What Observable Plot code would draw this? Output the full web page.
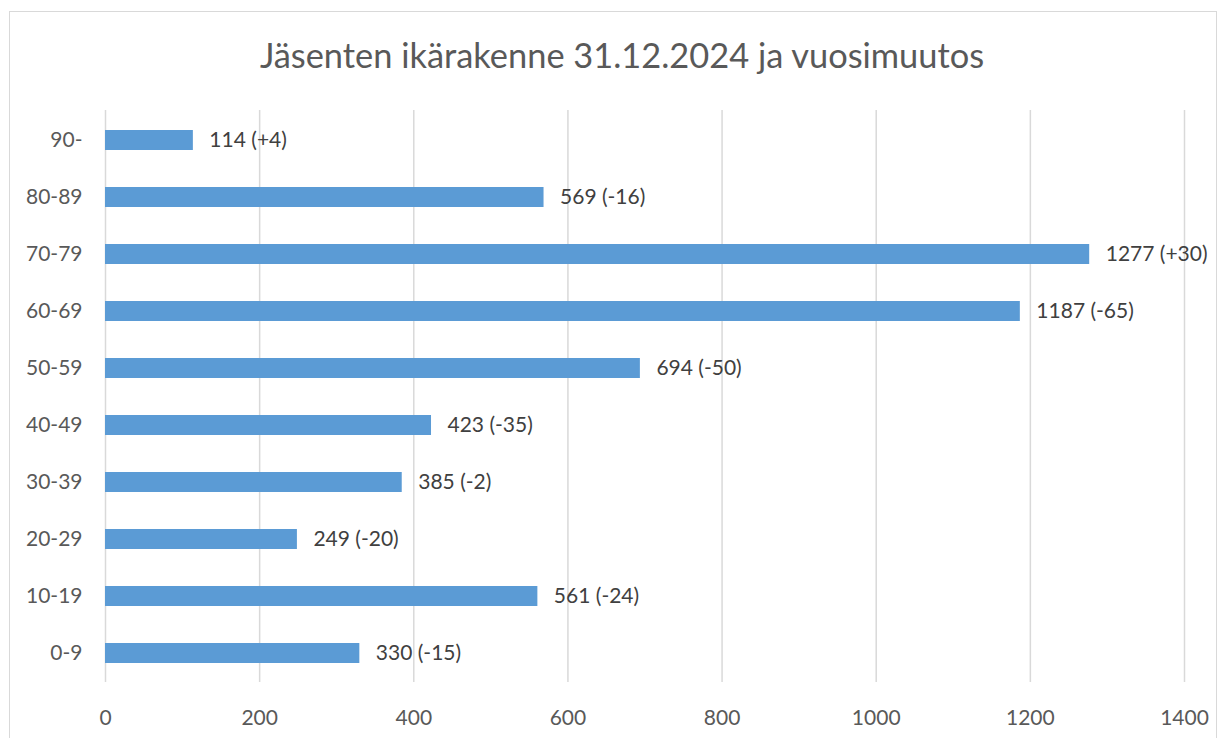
<!DOCTYPE html>
<html>
<head>
<meta charset="utf-8">
<script src="https://cdn.jsdelivr.net/npm/d3@7"></script>
<script src="https://cdn.jsdelivr.net/npm/@observablehq/plot@0.6"></script>
<style>
  html, body { margin: 0; padding: 0; background: #fff; }
  body { width: 1224px; height: 738px; overflow: hidden; position: relative; font-family: Lato, "Open Sans", sans-serif; }
  #frame { position: absolute; left: 9px; top: 11px; width: 1208px; height: 760px; border: 1px solid #d9d9d9; box-sizing: border-box; }
  #title { position: absolute; left: 10px; top: 35px; width: 1224px; text-align: center; font-size: 34.4px; color: #595959; line-height: 40px; white-space: nowrap; }
  #chart { position: absolute; left: 0; top: 80px; }
</style>
</head>
<body>
<div id="frame"></div>
<div id="title">Jäsenten ikärakenne 31.12.2024 ja vuosimuutos</div>
<div id="chart"></div>
<script>
const groups = ["0-9", "10-19", "20-29", "30-39", "40-49", "50-59", "60-69", "70-79", "80-89", "90-"];
const members = [330, 561, 249, 385, 423, 694, 1187, 1277, 569, 114];
const changes = [-15, -24, -20, -2, -35, -50, -65, 30, -16, 4];
const xTicks = [0, 200, 400, 600, 800, 1000, 1200, 1400];

const data = groups.map((g, i) => ({
  group: g,
  value: members[i],
  label: `${members[i]} (${changes[i] > 0 ? "+" : ""}${changes[i]})`
}));

const chart = Plot.plot({
  width: 1224,
  height: 650,
  marginLeft: 105,
  marginRight: 40,
  marginTop: 30,
  marginBottom: 48,
  style: { fontFamily: "Lato, 'Open Sans', sans-serif", fontSize: "21px", color: "#595959", background: "transparent" },
  x: { domain: [0, 1400], ticks: xTicks, label: null },
  y: { domain: groups.slice().reverse(), label: null, paddingInner: 0.65, paddingOuter: 0.325 },
  marks: [
    Plot.ruleX(xTicks, { stroke: "#d9d9d9", strokeWidth: 1.5 }),
    Plot.barX(data, { x: "value", y: "group", fill: "#5b9bd5" }),
    Plot.text(data, { x: "value", y: "group", text: "label", textAnchor: "start", dx: 16, fill: "#404040", fontSize: 21 }),
    Plot.axisX({ ticks: xTicks, tickFormat: d => String(d), tickSize: 0, tickPadding: 28, fill: "#595959", fontSize: 21, label: null }),
    Plot.axisY({ tickSize: 0, tickPadding: 23, fill: "#595959", fontSize: 21, label: null })
  ]
});
document.getElementById("chart").appendChild(chart);
</script>
</body>
</html>
